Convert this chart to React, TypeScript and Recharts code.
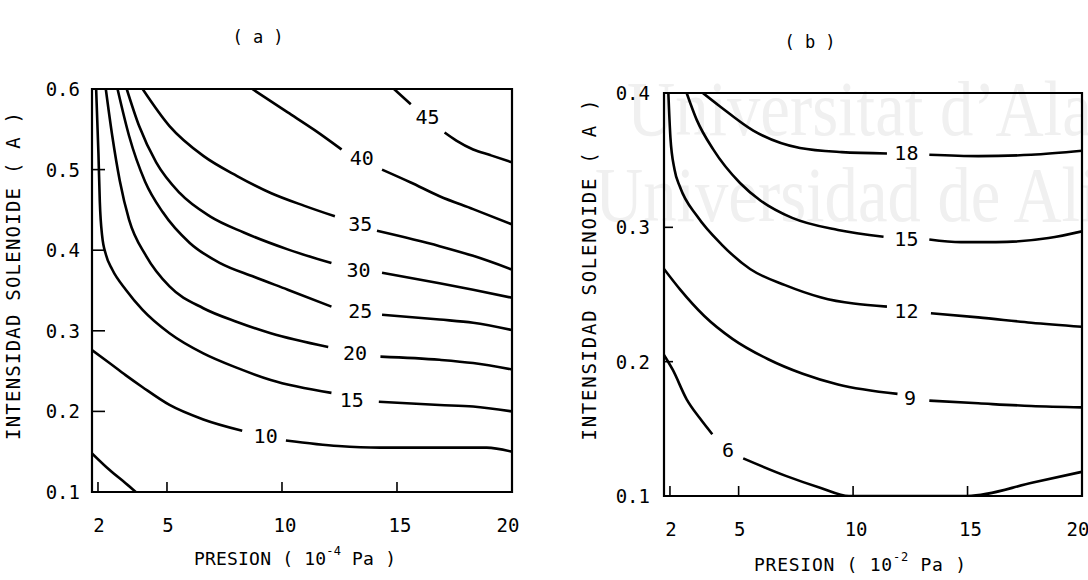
import React from "react";
import { ComposedChart, Line, Scatter, XAxis, YAxis, ReferenceArea, Label } from "recharts";

type Pt = [number, number | null];
type Tag = { x: number; y: number; text: string };

const FONT = "'DejaVu Sans Mono', 'Liberation Mono', monospace";

const pressureTicks = [2, 5, 10, 15, 20];
const pressureDomain = [1.74, 20];
const currentTicksA = [0.1, 0.2, 0.3, 0.4, 0.5, 0.6];
const currentTicksB = [0.1, 0.2, 0.3, 0.4];

// (a) contour lines; a null y leaves the gap where the label sits
const a45: Pt[] = [[14.87, 0.6], [15.6, 0.581], [16.33, null], [17.07, 0.546], [17.58, 0.536], [18.31, 0.525], [19.05, 0.518], [20, 0.509]];
const a40: Pt[] = [[8.71, 0.6], [10.25, 0.571], [11.42, 0.549], [12.59, 0.525], [13.47, null], [14.35, 0.5], [15.6, 0.484], [16.85, 0.467], [18.31, 0.451], [20, 0.432]];
const a35: Pt[] = [[3.94, 0.6], [5.11, 0.554], [6.58, 0.517], [8.05, 0.492], [9.51, 0.471], [10.98, 0.455], [12.3, 0.442], [13.4, null], [14.13, 0.424], [16.85, 0.405], [18.31, 0.393], [20, 0.376]];
const a30: Pt[] = [[3.25, 0.6], [3.79, 0.554], [4.53, 0.509], [5.55, 0.471], [6.87, 0.442], [8.34, 0.422], [10.25, 0.401], [12.15, 0.384], [13.33, null], [14.35, 0.372], [16.85, 0.359], [18.31, 0.351], [20, 0.341]];
const a25: Pt[] = [[2.85, 0.6], [3.35, 0.542], [4.05, 0.485], [4.82, 0.447], [5.99, 0.409], [7.31, 0.384], [8.78, 0.367], [10.25, 0.351], [12.15, 0.33], [13.4, null], [14.35, 0.32], [16.85, 0.314], [18.31, 0.31], [20, 0.301]];
const a20: Pt[] = [[2.34, 0.6], [2.62, 0.542], [2.95, 0.486], [3.35, 0.438], [4.09, 0.393], [5.11, 0.355], [6.58, 0.328], [8.05, 0.311], [9.51, 0.297], [12.01, 0.28], [13.18, null], [14.28, 0.268], [16.85, 0.264], [18.31, 0.26], [20, 0.252]];
const a15: Pt[] = [[1.92, 0.6], [2.02, 0.52], [2.08, 0.46], [2.18, 0.418], [2.35, 0.394], [2.62, 0.376], [3.21, 0.351], [3.94, 0.326], [5.11, 0.297], [6.58, 0.272], [8.05, 0.254], [9.51, 0.239], [12.15, 0.223], [13.03, null], [14.21, 0.212], [16.85, 0.208], [18.31, 0.206], [20, 0.2]];
const a10: Pt[] = [[1.74, 0.276], [2.5, 0.26], [3.2, 0.245], [3.94, 0.23], [5.11, 0.208], [6.58, 0.19], [8.27, 0.176], [9.29, null], [10.17, 0.164], [12.45, 0.157], [14.26, 0.155], [18.9, 0.155], [20, 0.15]];
const a5: Pt[] = [[1.74, 0.148], [2.52, 0.127], [3.2, 0.111], [3.65, 0.1]];

const labelsA: Tag[] = [
  { x: 16.33, y: 0.565, text: "45" },
  { x: 13.47, y: 0.515, text: "40" },
  { x: 13.4, y: 0.432, text: "35" },
  { x: 13.33, y: 0.376, text: "30" },
  { x: 13.4, y: 0.324, text: "25" },
  { x: 13.18, y: 0.272, text: "20" },
  { x: 13.03, y: 0.214, text: "15" },
  { x: 9.29, y: 0.169, text: "10" },
];

// (b) contour lines
const b18: Pt[] = [[3.44, 0.4], [4.19, 0.39], [5.64, 0.372], [7.68, 0.359], [9.5, 0.356], [11.48, 0.355], [12.33, null], [13.33, 0.354], [15.47, 0.353], [17.78, 0.354], [20, 0.357]];
const b15: Pt[] = [[2.73, 0.4], [3.17, 0.38], [3.89, 0.358], [5.06, 0.333], [5.95, 0.32], [7.34, 0.307], [9.34, 0.298], [11.33, 0.293], [12.33, null], [13.33, 0.291], [14.71, 0.289], [16.24, 0.289], [18.54, 0.292], [20, 0.297]];
const b12: Pt[] = [[1.93, 0.4], [2.02, 0.367], [2.2, 0.343], [2.44, 0.33], [3.2, 0.308], [4.27, 0.287], [5.5, 0.269], [7.03, 0.257], [8.57, 0.248], [11.48, 0.241], [12.33, null], [13.4, 0.236], [15.47, 0.233], [17.78, 0.229], [20, 0.226]];
const b9: Pt[] = [[1.74, 0.269], [2.43, 0.254], [3.5, 0.234], [4.73, 0.217], [6.27, 0.202], [7.8, 0.191], [9.34, 0.183], [11.94, 0.176], [12.48, null], [13.33, 0.171], [15.47, 0.169], [17.78, 0.167], [20, 0.166]];
const b6: Pt[] = [[1.74, 0.205], [2.12, 0.194], [2.73, 0.172], [3.3, 0.158], [3.85, 0.146], [4.54, null], [5.2, 0.128], [7.06, 0.115], [8.59, 0.106], [9.82, 0.1], [12.5, 0.1], [15, 0.1], [17.86, 0.11], [20, 0.118]];

const labelsB: Tag[] = [
  { x: 12.33, y: 0.355, text: "18" },
  { x: 12.33, y: 0.291, text: "15" },
  { x: 12.33, y: 0.238, text: "12" },
  { x: 12.49, y: 0.173, text: "9" },
  { x: 4.54, y: 0.134, text: "6" },
];

const rows = (pts: Pt[]) => pts.map(([x, y]) => ({ x, y }));

const xTick = (len: number) => (props: any) => {
  const { x, y, payload } = props;
  const v = payload.value;
  const dx = v === 20 ? -4 : v >= 10 ? 3 : 1;
  return (
    <g>
      {v !== 20 && <line x1={x} y1={y} x2={x} y2={y - len} stroke="#000" strokeWidth={1.6} />}
      <text x={x + dx} y={y + 33} textAnchor="middle" dominantBaseline="central" fontFamily={FONT} fontSize={19} fill="#000">
        {v}
      </text>
    </g>
  );
};

const yTick = (len: number, gap: number, lo: number, hi: number) => (props: any) => {
  const { x, y, payload } = props;
  const v = payload.value;
  return (
    <g>
      {v !== lo && v !== hi && <line x1={x} y1={y} x2={x + len} y2={y} stroke="#000" strokeWidth={1.6} />}
      <text x={x - gap} y={y} textAnchor="end" dominantBaseline="central" fontFamily={FONT} fontSize={19} fill="#000">
        {v.toFixed(1)}
      </text>
    </g>
  );
};

const contourLabel = (props: any) => {
  const { cx, cy, payload } = props;
  return (
    <text x={cx} y={cy} textAnchor="middle" dominantBaseline="central" fontFamily={FONT} fontSize={20} fill="#000">
      {payload.text}
    </text>
  );
};

interface PanelProps {
  left: number;
  width: number;
  margin: { top: number; right: number; bottom: number; left: number };
  yAxisWidth: number;
  yTicks: number[];
  curves: Pt[][];
  labels: Tag[];
  exponent: string;
  xTitleShift: number;
  xTitleDy: number;
  xTitleLen: number;
  yTitleX: number;
  yTitleY: number;
  yTitleLen: number;
  yTickLen: number;
  yLabelGap: number;
}

function Panel(p: PanelProps) {
  const lo = p.yTicks[0];
  const hi = p.yTicks[p.yTicks.length - 1];
  const xTitle = (props: any) => {
    const vb = props.viewBox;
    const cx = vb.x + vb.width / 2 + p.xTitleShift;
    return (
      <text x={cx} y={vb.y + p.xTitleDy} textAnchor="middle" dominantBaseline="central" fontFamily={FONT} fontSize={18} fill="#000" textLength={p.xTitleLen} lengthAdjust="spacing">
        PRESION ( 10
        <tspan dy={-7} fontSize={12}>{p.exponent}</tspan>
        <tspan dy={7}> Pa )</tspan>
      </text>
    );
  };
  const yTitle = (props: any) => {
    const vb = props.viewBox;
    const cx = vb.x + p.yTitleX;
    const cy = p.yTitleY;
    return (
      <text x={cx} y={cy} transform={`rotate(-90 ${cx} ${cy})`} textAnchor="middle" dominantBaseline="central" fontFamily={FONT} fontSize={19} fill="#000" textLength={p.yTitleLen} lengthAdjust="spacing">
        INTENSIDAD  SOLENOIDE ( A )
      </text>
    );
  };
  return (
    <div style={{ position: "absolute", left: p.left, top: 0 }}>
      <ComposedChart width={p.width} height={580} margin={p.margin}>
        <XAxis
          type="number"
          dataKey="x"
          domain={pressureDomain}
          allowDataOverflow
          ticks={pressureTicks}
          interval={0}
          height={60}
          axisLine={false}
          tickLine={false}
          tickSize={0}
          tickMargin={0}
          tick={xTick(10)}
        >
          <Label content={xTitle} />
        </XAxis>
        <YAxis
          type="number"
          dataKey="y"
          domain={[lo, hi]}
          allowDataOverflow
          ticks={p.yTicks}
          interval={0}
          width={p.yAxisWidth}
          axisLine={false}
          tickLine={false}
          tickSize={0}
          tickMargin={0}
          tick={yTick(p.yTickLen, p.yLabelGap, lo, hi)}
        >
          <Label content={yTitle} />
        </YAxis>
        <ReferenceArea x1={pressureDomain[0]} x2={pressureDomain[1]} y1={lo} y2={hi} fill="none" fillOpacity={0} stroke="#000" strokeWidth={2.2} ifOverflow="visible" />
        {p.curves.map((c, i) => (
          <Line
            key={i}
            data={rows(c)}
            dataKey="y"
            type="monotone"
            stroke="#000"
            strokeWidth={2.6}
            dot={false}
            activeDot={false}
            connectNulls={false}
            isAnimationActive={false}
          />
        ))}
        <Scatter data={p.labels} dataKey="y" shape={contourLabel} isAnimationActive={false} />
      </ComposedChart>
    </div>
  );
}

export default function App() {
  return (
    <div style={{ position: "absolute", left: 0, top: 0, width: 1088, height: 580, background: "#fff", overflow: "hidden" }}>
      <svg width={1088} height={580} style={{ position: "absolute", left: 0, top: 0 }}>
        <g fill="#f0f0f0" fontFamily="'Liberation Serif', 'DejaVu Serif', serif" fontSize={78}>
          <text x={627} y={135} transform="translate(627 0) scale(0.855 1) translate(-627 0)">
            Universitat d’Alacant
          </text>
          <text x={595} y={221} transform="translate(595 0) scale(0.855 1) translate(-595 0)">
            Universidad de Alicante
          </text>
        </g>
        <text x={258} y={37} textAnchor="middle" dominantBaseline="central" fontFamily={FONT} fontSize={17} fill="#000">
          ( a )
        </text>
        <text x={810} y={42} textAnchor="middle" dominantBaseline="central" fontFamily={FONT} fontSize={17} fill="#000">
          ( b )
        </text>
      </svg>
      <Panel
        left={0}
        width={540}
        margin={{ top: 89, right: 28, bottom: 28, left: 0 }}
        yAxisWidth={92}
        yTicks={currentTicksA}
        curves={[a45, a40, a35, a30, a25, a20, a15, a10, a5]}
        labels={labelsA}
        exponent="-4"
        xTitleShift={-7}
        xTitleDy={66}
        xTitleLen={202}
        yTitleX={13}
        yTitleY={276}
        yTitleLen={328}
        yTickLen={13}
        yLabelGap={12}
      />
      <Panel
        left={540}
        width={548}
        margin={{ top: 93, right: 6, bottom: 24, left: 0 }}
        yAxisWidth={124}
        yTicks={currentTicksB}
        curves={[b18, b15, b12, b9, b6]}
        labels={labelsB}
        exponent="-2"
        xTitleShift={-13}
        xTitleDy={68}
        xTitleLen={212}
        yTitleX={49}
        yTitleY={270}
        yTitleLen={341}
        yTickLen={9}
        yLabelGap={14}
      />
    </div>
  );
}
